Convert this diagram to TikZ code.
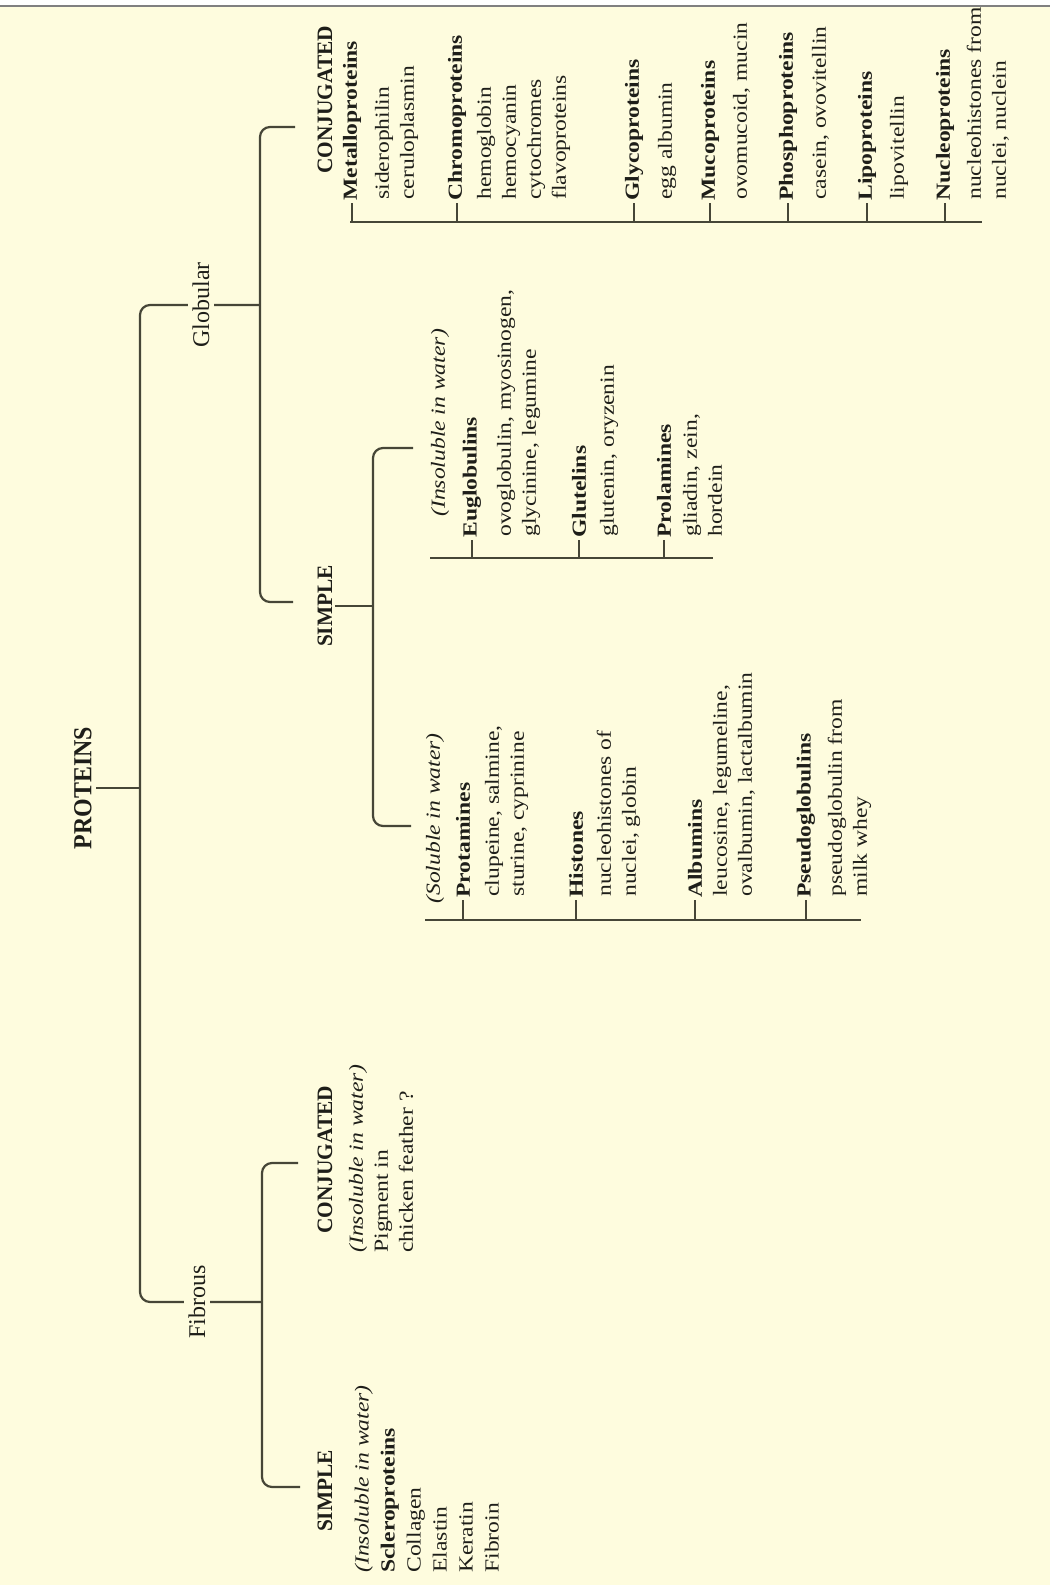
\documentclass[tikz,border=0pt]{standalone}
\usepackage{fontspec}
\setmainfont[FakeStretch=1.18]{Liberation Serif}
\newfontfamily\headfont[FakeStretch=0.97]{Liberation Serif}
\newfontfamily\rootfont[FakeStretch=0.92]{Liberation Serif}
\newfontfamily\branchfont{Liberation Serif}
\definecolor{bgc}{RGB}{254,252,222}
\definecolor{linec}{RGB}{70,70,55}
\definecolor{txtc}{RGB}{30,30,25}
\newcommand{\bodysz}{\fontsize{10}{12.5}\selectfont}
\tikzset{
  conn/.style={draw=linec, line width=1.1pt},
  bracketline/.style={conn, rounded corners=5pt},
  rootnode/.style={rotate=90, inner sep=2pt, text=txtc, font=\rootfont\bfseries\fontsize{13}{15}\selectfont},
  branch/.style={rotate=90, fill=bgc, inner sep=2.5pt, text=txtc, font=\branchfont\fontsize{12}{14}\selectfont},
  head/.style={rotate=90, inner sep=1pt, text=txtc, font=\headfont\bfseries\fontsize{11}{13}\selectfont},
  sub/.style={rotate=90, anchor=west, inner sep=0pt, text=txtc, font=\bodysz\itshape},
  lab/.style={rotate=90, anchor=west, inner sep=1pt, text=txtc, font=\bodysz\bfseries},
  desc/.style={rotate=90, anchor=north west, inner sep=0pt, align=left, text=txtc, font=\bodysz},
}
\begin{document}
\begin{tikzpicture}[x=0.5pt, y=-0.5pt]
\useasboundingbox (0,0) rectangle (1050,1585);
\fill[bgc] (0,0) rectangle (1050,1585);
\fill[white] (0,0) rectangle (1050,5);
\draw[gray, line width=1pt] (0,6) -- (1050,6);

% ---------- root ----------
\node[rootnode] (proteins) at (83,788) {PROTEINS};
\coordinate (rootj) at (140,788);
\draw[conn] (proteins.south) -- (rootj);

% main bracket
\coordinate (gA) at (260,305);
\coordinate (gB) at (140,305);
\coordinate (fB) at (140,1302);
\coordinate (fA) at (262,1302);
\draw[bracketline] (gA) -- (gB) -- (fB) -- (fA);
\node[branch] (globular) at (201,305) {Globular};
\node[branch] (fibrous) at (197,1302) {Fibrous};

% ---------- globular level ----------
\node[head] (gconj) at (325,100) {CONJUGATED};
\node[head] (gsimple) at (325,606) {SIMPLE};
\coordinate (gc1) at (295,127);
\coordinate (gc2) at (260,127);
\coordinate (gs2) at (260,602);
\coordinate (gs1) at (293,602);
\draw[bracketline] (gc1) -- (gc2) -- (gs2) -- (gs1);

% ---------- fibrous level ----------
\node[head] (fconj) at (325,1160) {CONJUGATED};
\node[head] (fsimple) at (325,1491) {SIMPLE};
\coordinate (fc1) at (298,1163);
\coordinate (fc2) at (262,1163);
\coordinate (fs2) at (262,1487);
\coordinate (fs1) at (300,1487);
\draw[bracketline] (fc1) -- (fc2) -- (fs2) -- (fs1);

\node[desc] (fconjd) at (345,1253) {\strut\textit{(Insoluble in water)}\\Pigment in\\chicken feather ?};
\node[desc, font=\fontsize{10}{13}\selectfont] (fsimpled) at (350,1573) {\strut\textit{(Insoluble in water)}\\\textbf{Scleroproteins}\\Collagen\\Elastin\\Keratin\\Fibroin};

% ---------- globular conjugated list ----------
\coordinate (gcS) at (350,222);
\coordinate (gcE) at (982,222);
\draw[conn] (gcS) -- (gcE);
\node[lab] (metal) at (352,203) {Metalloproteins};
\node[desc] (metald) at (371,200) {\strut siderophilin\\ceruloplasmin};
\node[lab] (chromo) at (457,203) {Chromoproteins};
\node[desc] (chromod) at (473,200) {\strut hemoglobin\\hemocyanin\\cytochromes\\flavoproteins};
\node[lab] (glyco) at (634,203) {Glycoproteins};
\node[desc] (glycod) at (654,200) {\strut egg albumin};
\node[lab] (muco) at (710,203) {Mucoproteins};
\node[desc] (mucod) at (729,200) {\strut ovomucoid, mucin};
\node[lab] (phospho) at (788,203) {Phosphoproteins};
\node[desc] (phosphod) at (808,200) {\strut casein, ovovitellin};
\node[lab] (lipo) at (867,203) {Lipoproteins};
\node[desc] (lipod) at (886,200) {\strut lipovitellin};
\node[lab] (nucleo) at (945,203) {Nucleoproteins};
\node[desc] (nucleod) at (963,200) {\strut nucleohistones from\\nuclei, nuclein};
\foreach \n in {metal,chromo,glyco,muco,phospho,lipo,nucleo}
  \draw[conn] (\n.west) -- (\n.west |- gcS);

% ---------- globular simple ----------
\coordinate (sv) at (373,606);
\draw[conn] (gsimple.south) -- (sv);
\coordinate (s1) at (413,448);
\coordinate (s2) at (373,448);
\coordinate (s3) at (373,826);
\coordinate (s4) at (411,826);
\draw[bracketline] (s1) -- (s2) -- (s3) -- (s4);

% insoluble
\node[sub] (insol) at (440,517) {(Insoluble in water)};
\coordinate (inS) at (430,558);
\coordinate (inE) at (713,558);
\draw[conn] (inS) -- (inE);
\node[lab] (eug) at (472,540) {Euglobulins};
\node[desc] (eugd) at (493,537) {\strut ovoglobulin, myosinogen,\\glycinine, legumine};
\node[lab] (glut) at (579,540) {Glutelins};
\node[desc] (glutd) at (596,537) {\strut glutenin, oryzenin};
\node[lab] (prol) at (664,540) {Prolamines};
\node[desc] (prold) at (679,537) {\strut gliadin, zein,\\hordein};
\foreach \n in {eug,glut,prol}
  \draw[conn] (\n.west) -- (\n.west |- inS);

% soluble
\node[sub] (sol) at (435,904) {(Soluble in water)};
\coordinate (soS) at (425,920);
\coordinate (soE) at (861,920);
\draw[conn] (soS) -- (soE);
\node[lab] (prot) at (463,900) {Protamines};
\node[desc] (protd) at (481,897) {\strut clupeine, salmine,\\sturine, cyprinine};
\node[lab] (hist) at (576,900) {Histones};
\node[desc] (histd) at (593,897) {\strut nucleohistones of\\nuclei, globin};
\node[lab] (alb) at (695,900) {Albumins};
\node[desc] (albd) at (709,897) {\strut leucosine, legumeline,\\ovalbumin, lactalbumin};
\node[lab] (pseudo) at (806,900) {Pseudoglobulins};
\node[desc] (pseudod) at (824,897) {\strut pseudoglobulin from\\milk whey};
\foreach \n in {prot,hist,alb,pseudo}
  \draw[conn] (\n.west) -- (\n.west |- soS);
\end{tikzpicture}
\end{document}
